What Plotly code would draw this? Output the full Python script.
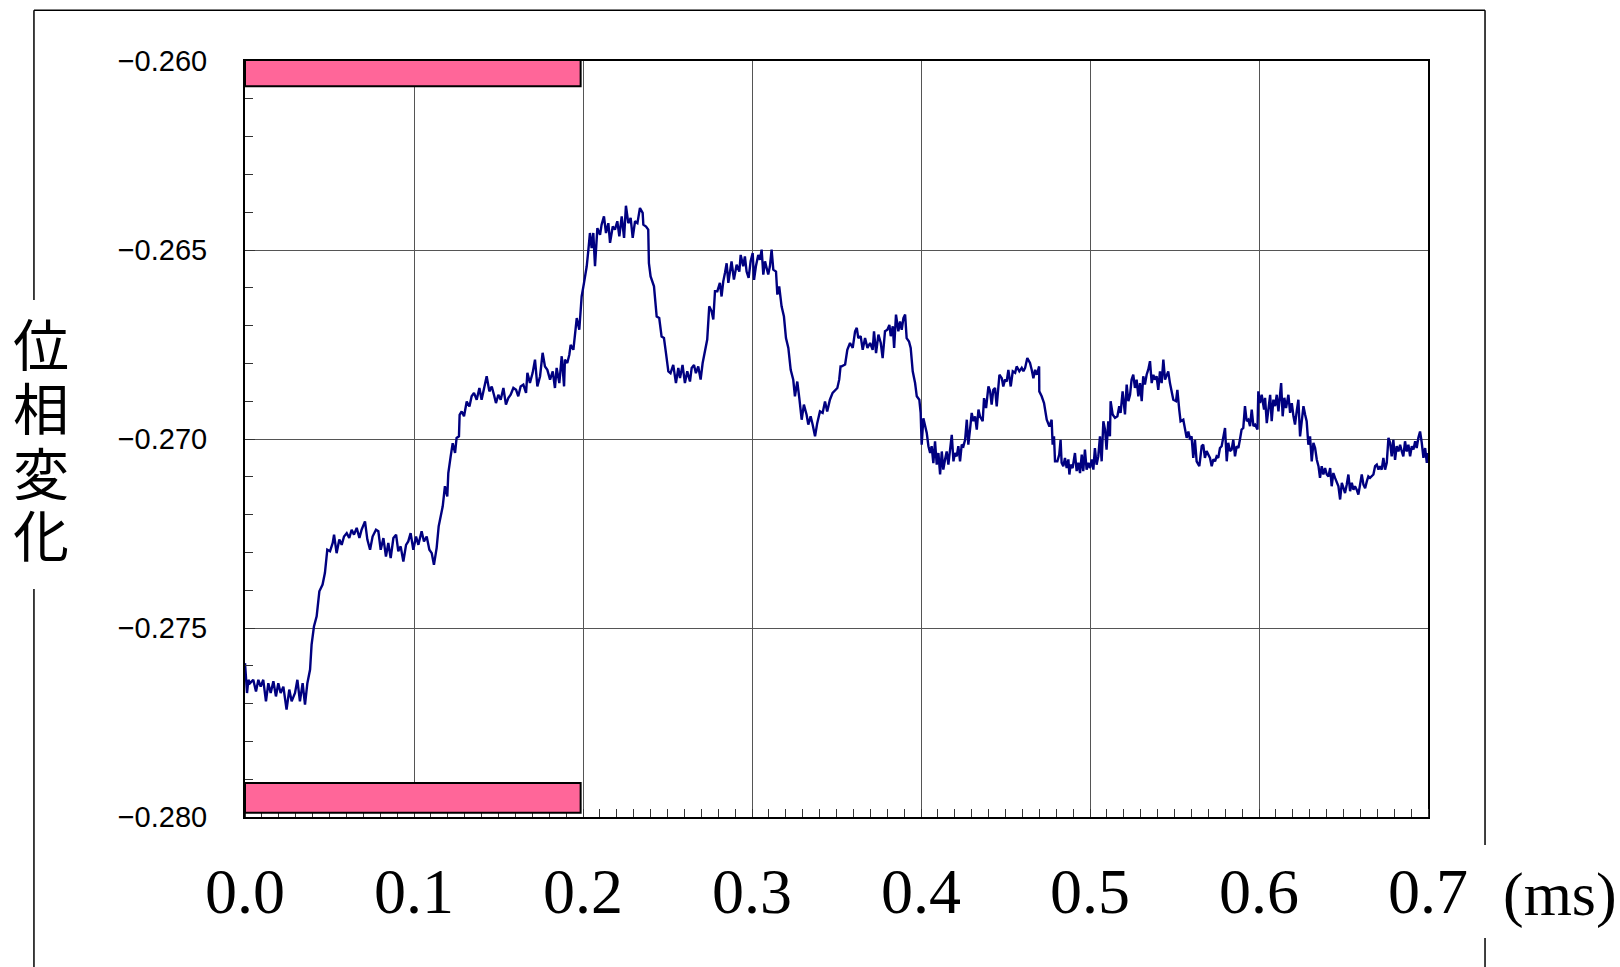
import plotly.graph_objects as go

# ---- data (time in ms, phase change) ----
readings = [
    (0.0000, -0.27593), (0.0012, -0.27672), (0.0020, -0.27637), (0.0030, -0.27646), (0.0049, -0.27637),
    (0.0065, -0.27668), (0.0079, -0.27637), (0.0093, -0.27655), (0.0108, -0.27637), (0.0124, -0.27694),
    (0.0138, -0.27646), (0.0152, -0.27672), (0.0168, -0.27641), (0.0183, -0.27681), (0.0197, -0.27646),
    (0.0211, -0.27672), (0.0227, -0.27655), (0.0246, -0.27716), (0.0262, -0.27663), (0.0276, -0.27694),
    (0.0296, -0.27672), (0.0310, -0.27637), (0.0325, -0.27694), (0.0341, -0.27646), (0.0355, -0.27703),
    (0.0369, -0.27646), (0.0385, -0.27610), (0.0394, -0.27544), (0.0408, -0.27496), (0.0424, -0.27469),
    (0.0440, -0.27403), (0.0459, -0.27385), (0.0473, -0.27354), (0.0487, -0.27293), (0.0503, -0.27297),
    (0.0519, -0.27275), (0.0527, -0.27253), (0.0542, -0.27302), (0.0558, -0.27266), (0.0572, -0.27280),
    (0.0586, -0.27258), (0.0602, -0.27249), (0.0617, -0.27262), (0.0631, -0.27240), (0.0645, -0.27253),
    (0.0661, -0.27235), (0.0677, -0.27262), (0.0690, -0.27240), (0.0710, -0.27218), (0.0724, -0.27266),
    (0.0740, -0.27293), (0.0755, -0.27258), (0.0775, -0.27240), (0.0789, -0.27244), (0.0803, -0.27293),
    (0.0819, -0.27262), (0.0834, -0.27311), (0.0848, -0.27275), (0.0862, -0.27315), (0.0878, -0.27262),
    (0.0894, -0.27253), (0.0907, -0.27297), (0.0921, -0.27284), (0.0937, -0.27324), (0.0953, -0.27280),
    (0.0966, -0.27271), (0.0980, -0.27249), (0.0996, -0.27293), (0.1012, -0.27258), (0.1026, -0.27280),
    (0.1045, -0.27244), (0.1059, -0.27271), (0.1075, -0.27258), (0.1091, -0.27293), (0.1105, -0.27302),
    (0.1118, -0.27333), (0.1134, -0.27288), (0.1146, -0.27231),
    (0.1170, -0.27178), (0.1183, -0.27125), (0.1197, -0.27152), (0.1203, -0.27090), (0.1217, -0.27046),
    (0.1229, -0.27011), (0.1243, -0.27037), (0.1252, -0.26997), (0.1266, -0.26993), (0.1270, -0.26936),
    (0.1282, -0.26927), (0.1296, -0.26940), (0.1312, -0.26901), (0.1328, -0.26914), (0.1341, -0.26887),
    (0.1355, -0.26878), (0.1371, -0.26896), (0.1387, -0.26865), (0.1400, -0.26896), (0.1414, -0.26870),
    (0.1430, -0.26834), (0.1446, -0.26874), (0.1460, -0.26861), (0.1473, -0.26883), (0.1485, -0.26905),
    (0.1499, -0.26883), (0.1513, -0.26896), (0.1529, -0.26865), (0.1544, -0.26909), (0.1558, -0.26892),
    (0.1572, -0.26883), (0.1588, -0.26865), (0.1604, -0.26870), (0.1617, -0.26887), (0.1631, -0.26861),
    (0.1647, -0.26856), (0.1663, -0.26878), (0.1671, -0.26825), (0.1686, -0.26852), (0.1702, -0.26825),
    (0.1716, -0.26790), (0.1730, -0.26861), (0.1746, -0.26834), (0.1761, -0.26772), (0.1775, -0.26808),
    (0.1789, -0.26817), (0.1805, -0.26843), (0.1821, -0.26821), (0.1834, -0.26865), (0.1844, -0.26812),
    (0.1860, -0.26852), (0.1874, -0.26781), (0.1888, -0.26861), (0.1893, -0.26790), (0.1907, -0.26799),
    (0.1919, -0.26777), (0.1927, -0.26751), (0.1943, -0.26764), (0.1953, -0.26729), (0.1963, -0.26680),
    (0.1978, -0.26711), (0.1992, -0.26623), (0.2006, -0.26587), (0.2022, -0.26543), (0.2032, -0.26499),
    (0.2041, -0.26455), (0.2051, -0.26495), (0.2061, -0.26455), (0.2071, -0.26543), (0.2085, -0.26442),
    (0.2101, -0.26460), (0.2110, -0.26433), (0.2124, -0.26411), (0.2136, -0.26455), (0.2150, -0.26429),
    (0.2160, -0.26481), (0.2176, -0.26438), (0.2189, -0.26446), (0.2203, -0.26424), (0.2215, -0.26464),
    (0.2229, -0.26411), (0.2243, -0.26468), (0.2254, -0.26383), (0.2268, -0.26429), (0.2282, -0.26415),
    (0.2294, -0.26468), (0.2308, -0.26424), (0.2322, -0.26429), (0.2337, -0.26389),
    (0.2353, -0.26402), (0.2357, -0.26433), (0.2373, -0.26438), (0.2386, -0.26446), (0.2390, -0.26535),
    (0.2400, -0.26570), (0.2420, -0.26596), (0.2436, -0.26676), (0.2451, -0.26680), (0.2465, -0.26729),
    (0.2479, -0.26733), (0.2491, -0.26773), (0.2505, -0.26821), (0.2518, -0.26826), (0.2534, -0.26804),
    (0.2550, -0.26852), (0.2564, -0.26812), (0.2574, -0.26839), (0.2589, -0.26804), (0.2603, -0.26852),
    (0.2617, -0.26821), (0.2633, -0.26848), (0.2643, -0.26812), (0.2657, -0.26804), (0.2668, -0.26826),
    (0.2682, -0.26808), (0.2696, -0.26843), (0.2708, -0.26799), (0.2722, -0.26764), (0.2735, -0.26737),
    (0.2747, -0.26649), (0.2761, -0.26662), (0.2771, -0.26684), (0.2781, -0.26609), (0.2795, -0.26609),
    (0.2810, -0.26587), (0.2820, -0.26623), (0.2830, -0.26583), (0.2840, -0.26561), (0.2850, -0.26535),
    (0.2860, -0.26587), (0.2870, -0.26548), (0.2879, -0.26530), (0.2893, -0.26578), (0.2909, -0.26539),
    (0.2925, -0.26557), (0.2933, -0.26513), (0.2948, -0.26543), (0.2958, -0.26517), (0.2968, -0.26557),
    (0.2980, -0.26574), (0.2992, -0.26530), (0.3004, -0.26508), (0.3012, -0.26579), (0.3023, -0.26543),
    (0.3037, -0.26513), (0.3047, -0.26526), (0.3057, -0.26499), (0.3067, -0.26565), (0.3077, -0.26530),
    (0.3087, -0.26552), (0.3096, -0.26565), (0.3106, -0.26543), (0.3116, -0.26499), (0.3126, -0.26552),
    (0.3142, -0.26557), (0.3150, -0.26618), (0.3161, -0.26596), (0.3175, -0.26649), (0.3189, -0.26676),
    (0.3201, -0.26733), (0.3215, -0.26759), (0.3229, -0.26817), (0.3244, -0.26843), (0.3254, -0.26887),
    (0.3268, -0.26848), (0.3280, -0.26892), (0.3294, -0.26949), (0.3307, -0.26909), (0.3323, -0.26936),
    (0.3333, -0.26962), (0.3347, -0.26940), (0.3359, -0.26962), (0.3373, -0.26993), (0.3386, -0.26958),
    (0.3402, -0.26927), (0.3418, -0.26931), (0.3432, -0.26901), (0.3445, -0.26927), (0.3461, -0.26896),
    (0.3477, -0.26878), (0.3491, -0.26870), (0.3505, -0.26865), (0.3516, -0.26843), (0.3524, -0.26808),
    (0.3531, -0.26808), (0.3551, -0.26803), (0.3564, -0.26764), (0.3580, -0.26746), (0.3596, -0.26759),
    (0.3610, -0.26715), (0.3620, -0.26706), (0.3629, -0.26733), (0.3643, -0.26728), (0.3655, -0.26764),
    (0.3669, -0.26733), (0.3683, -0.26759), (0.3699, -0.26746), (0.3714, -0.26764), (0.3722, -0.26715),
    (0.3734, -0.26773), (0.3748, -0.26724), (0.3762, -0.26746), (0.3773, -0.26786), (0.3787, -0.26715),
    (0.3801, -0.26711), (0.3813, -0.26698), (0.3821, -0.26728), (0.3833, -0.26702), (0.3841, -0.26759),
    (0.3852, -0.26671), (0.3866, -0.26715), (0.3876, -0.26689), (0.3886, -0.26711), (0.3896, -0.26680),
    (0.3906, -0.26671), (0.3915, -0.26733), (0.3929, -0.26742), (0.3939, -0.26759), (0.3951, -0.26821),
    (0.3965, -0.26852), (0.3975, -0.26887), (0.3990, -0.26896), (0.3998, -0.26931), (0.4004, -0.27015),
    (0.4014, -0.26945), (0.4024, -0.26967), (0.4034, -0.26984), (0.4044, -0.27019), (0.4054, -0.27037),
    (0.4063, -0.27019), (0.4073, -0.27064), (0.4083, -0.27006), (0.4093, -0.27068), (0.4103, -0.27037),
    (0.4113, -0.27094), (0.4123, -0.27033), (0.4132, -0.27081), (0.4142, -0.27055), (0.4152, -0.27033),
    (0.4162, -0.27068), (0.4172, -0.27019), (0.4182, -0.26989), (0.4192, -0.27059), (0.4201, -0.27037),
    (0.4211, -0.27046), (0.4221, -0.27019), (0.4231, -0.27059), (0.4241, -0.27015), (0.4251, -0.27019),
    (0.4261, -0.27002), (0.4271, -0.26949), (0.4280, -0.27015), (0.4290, -0.26975), (0.4300, -0.26931),
    (0.4310, -0.26953), (0.4320, -0.26940), (0.4330, -0.26975), (0.4340, -0.26922), (0.4349, -0.26940),
    (0.4365, -0.26953), (0.4373, -0.26892), (0.4385, -0.26918), (0.4399, -0.26861), (0.4409, -0.26874),
    (0.4418, -0.26909), (0.4428, -0.26870), (0.4438, -0.26865), (0.4448, -0.26914), (0.4464, -0.26830),
    (0.4478, -0.26839), (0.4487, -0.26861), (0.4497, -0.26843), (0.4507, -0.26848), (0.4517, -0.26817),
    (0.4531, -0.26861), (0.4543, -0.26821), (0.4557, -0.26825), (0.4566, -0.26808), (0.4582, -0.26821),
    (0.4596, -0.26812), (0.4606, -0.26821), (0.4616, -0.26812), (0.4629, -0.26786), (0.4645, -0.26799),
    (0.4655, -0.26817), (0.4665, -0.26839), (0.4675, -0.26817), (0.4685, -0.26830), (0.4699, -0.26808),
    (0.4700, -0.26874), (0.4714, -0.26887), (0.4728, -0.26905), (0.4744, -0.26949), (0.4760, -0.26967),
    (0.4773, -0.26949), (0.4779, -0.27015), (0.4787, -0.26993), (0.4793, -0.27059), (0.4807, -0.27059),
    (0.4818, -0.27041), (0.4826, -0.27002), (0.4832, -0.27063), (0.4842, -0.27072), (0.4852, -0.27050),
    (0.4862, -0.27077), (0.4872, -0.27054), (0.4878, -0.27094), (0.4885, -0.27068), (0.4897, -0.27077),
    (0.4905, -0.27059), (0.4911, -0.27037), (0.4921, -0.27085), (0.4931, -0.27063), (0.4941, -0.27090),
    (0.4951, -0.27041), (0.4960, -0.27085), (0.4970, -0.27028), (0.4980, -0.27081), (0.4990, -0.27063),
    (0.5000, -0.27077), (0.5010, -0.27054), (0.5020, -0.27081), (0.5029, -0.27024), (0.5039, -0.27068),
    (0.5049, -0.27046), (0.5059, -0.26993), (0.5069, -0.27059), (0.5079, -0.26953), (0.5089, -0.26975),
    (0.5098, -0.27028), (0.5108, -0.26953), (0.5118, -0.26993), (0.5122, -0.26900), (0.5134, -0.26935),
    (0.5148, -0.26944), (0.5162, -0.26940), (0.5173, -0.26913), (0.5181, -0.26931), (0.5193, -0.26874),
    (0.5207, -0.26935), (0.5217, -0.26856), (0.5227, -0.26900), (0.5237, -0.26883), (0.5246, -0.26843),
    (0.5256, -0.26830), (0.5266, -0.26865), (0.5276, -0.26843), (0.5286, -0.26887), (0.5296, -0.26852),
    (0.5306, -0.26900), (0.5315, -0.26834), (0.5325, -0.26856), (0.5335, -0.26830), (0.5345, -0.26816),
    (0.5355, -0.26794), (0.5365, -0.26852), (0.5375, -0.26830), (0.5384, -0.26843), (0.5394, -0.26834),
    (0.5404, -0.26870), (0.5414, -0.26821), (0.5424, -0.26852), (0.5434, -0.26790), (0.5444, -0.26843),
    (0.5454, -0.26830), (0.5463, -0.26821), (0.5473, -0.26852), (0.5483, -0.26870), (0.5493, -0.26896),
    (0.5509, -0.26900), (0.5517, -0.26870), (0.5528, -0.26922), (0.5536, -0.26953), (0.5552, -0.26949),
    (0.5562, -0.26971), (0.5572, -0.26997), (0.5582, -0.26980), (0.5592, -0.27002), (0.5601, -0.26993),
    (0.5611, -0.27050), (0.5621, -0.27002), (0.5631, -0.27059), (0.5647, -0.27072), (0.5661, -0.27019),
    (0.5670, -0.27015), (0.5680, -0.27050), (0.5690, -0.27032), (0.5700, -0.27041), (0.5710, -0.27050),
    (0.5720, -0.27072), (0.5730, -0.27054), (0.5740, -0.27059), (0.5749, -0.27046), (0.5759, -0.27050),
    (0.5769, -0.27024), (0.5779, -0.27019), (0.5789, -0.26997), (0.5799, -0.26971), (0.5809, -0.27059),
    (0.5818, -0.27010), (0.5828, -0.27032), (0.5838, -0.27028), (0.5848, -0.27002), (0.5858, -0.27046),
    (0.5868, -0.27019), (0.5878, -0.27024), (0.5887, -0.27002), (0.5897, -0.26975), (0.5907, -0.26971),
    (0.5917, -0.26913), (0.5927, -0.26953), (0.5937, -0.26949), (0.5947, -0.26966),
    (0.5957, -0.26922), (0.5967, -0.26966), (0.5977, -0.26962), (0.5991, -0.26975), (0.5996, -0.26874),
    (0.6006, -0.26905), (0.6016, -0.26883), (0.6030, -0.26922), (0.6036, -0.26891), (0.6046, -0.26958),
    (0.6056, -0.26913), (0.6066, -0.26883), (0.6075, -0.26953), (0.6085, -0.26896), (0.6095, -0.26913),
    (0.6105, -0.26883), (0.6115, -0.26927), (0.6125, -0.26878), (0.6131, -0.26852), (0.6140, -0.26940),
    (0.6150, -0.26891), (0.6160, -0.26918), (0.6174, -0.26883), (0.6184, -0.26931), (0.6194, -0.26905),
    (0.6204, -0.26940), (0.6213, -0.26962), (0.6223, -0.26927), (0.6233, -0.26896), (0.6243, -0.26993),
    (0.6253, -0.26949), (0.6263, -0.26913), (0.6273, -0.26936), (0.6282, -0.26953), (0.6292, -0.27015),
    (0.6302, -0.26993), (0.6312, -0.27059), (0.6322, -0.27010), (0.6332, -0.27024), (0.6342, -0.27055),
    (0.6352, -0.27072), (0.6361, -0.27103), (0.6371, -0.27072), (0.6381, -0.27094), (0.6391, -0.27077),
    (0.6401, -0.27094), (0.6411, -0.27099), (0.6421, -0.27077), (0.6430, -0.27125), (0.6440, -0.27090),
    (0.6450, -0.27103), (0.6460, -0.27116), (0.6470, -0.27125), (0.6480, -0.27160), (0.6490, -0.27116),
    (0.6500, -0.27130), (0.6509, -0.27143), (0.6519, -0.27121), (0.6529, -0.27094), (0.6539, -0.27138),
    (0.6549, -0.27116), (0.6559, -0.27134), (0.6568, -0.27125), (0.6578, -0.27134), (0.6588, -0.27147),
    (0.6598, -0.27121), (0.6608, -0.27094), (0.6618, -0.27121), (0.6628, -0.27130), (0.6638, -0.27112),
    (0.6647, -0.27099), (0.6657, -0.27103), (0.6667, -0.27099), (0.6677, -0.27094), (0.6687, -0.27072),
    (0.6697, -0.27068), (0.6707, -0.27081), (0.6716, -0.27072), (0.6726, -0.27081), (0.6736, -0.27050),
    (0.6746, -0.27081), (0.6756, -0.27063), (0.6766, -0.26997), (0.6776, -0.27010), (0.6785, -0.27046),
    (0.6795, -0.27002), (0.6805, -0.27055), (0.6815, -0.27019), (0.6825, -0.27033), (0.6835, -0.27015),
    (0.6845, -0.27033), (0.6854, -0.27046), (0.6864, -0.27006), (0.6874, -0.27033), (0.6884, -0.27015),
    (0.6894, -0.27046), (0.6904, -0.27019), (0.6914, -0.27028), (0.6924, -0.27006), (0.6933, -0.27024),
    (0.6943, -0.26997), (0.6953, -0.26980), (0.6963, -0.27010), (0.6973, -0.27050), (0.6983, -0.27024),
    (0.6993, -0.27063), (0.7000, -0.27037),
]
time_ms = [r[0] for r in readings]
phase = [r[1] for r in readings]

x_ticks = [0.0, 0.1, 0.2, 0.3, 0.4, 0.5, 0.6, 0.7]
x_labels = ["0.0", "0.1", "0.2", "0.3", "0.4", "0.5", "0.6", "0.7"]
y_ticks = [-0.280, -0.275, -0.270, -0.265, -0.260]
y_labels = ["\u22120.280", "\u22120.275", "\u22120.270", "\u22120.265", "\u22120.260"]
y_title_chars = ["位", "相", "変", "化"]
x_unit = "(ms)"
pulse_start, pulse_end = 0.0, 0.2

fig = go.Figure()
fig.add_trace(go.Scatter(x=time_ms, y=phase, mode="lines",
                         line=dict(color="#000080", width=2.4),
                         showlegend=False, hoverinfo="skip"))

grid_col = "#555555"
fig.update_xaxes(range=[0, 0.7], tickmode="array", tickvals=x_ticks, ticktext=x_labels,
                 showgrid=True, gridcolor=grid_col, gridwidth=1, zeroline=False,
                 showline=True, linecolor="black", linewidth=2, mirror=True,
                 ticks="", ticklabelstandoff=17,
                 tickfont=dict(family="Liberation Serif, Times New Roman, serif", size=64, color="black"),
                 minor=dict(tickmode="linear", tick0=0, dtick=0.01, ticks="inside", ticklen=8,
                            tickcolor="#333333", tickwidth=1, showgrid=False))
fig.update_yaxes(range=[-0.280, -0.260], tickmode="array", tickvals=y_ticks, ticktext=y_labels,
                 showgrid=True, gridcolor=grid_col, gridwidth=1, zeroline=False,
                 showline=True, linecolor="black", linewidth=2, mirror=True,
                 ticks="inside", ticklen=10, tickcolor="#333333", ticklabelstandoff=30,
                 tickfont=dict(family="Liberation Sans, Arial, sans-serif", size=29, color="black"),
                 minor=dict(tickmode="linear", tick0=-0.280, dtick=0.001, ticks="inside", ticklen=8,
                            tickcolor="#333333", tickwidth=1, showgrid=False))

shapes = []
# pink pulse bars (top and bottom)
for y0, y1 in [(-0.25988, -0.26067), (-0.27910, -0.27989)]:
    shapes.append(dict(type="rect", xref="x", yref="y", x0=pulse_start, x1=pulse_end * 0.993,
                       y0=y0, y1=y1, fillcolor="#FF6699", line=dict(color="black", width=2),
                       layer="above"))
# outer frame with gaps for the axis title and unit
frame = dict(color="black", width=1.5)
left_x, right_x, top_y = -0.1784, 1.0482, 1.0671
for (x0, y0, x1, y1) in [
    (left_x, top_y, right_x, top_y),
    (left_x, top_y, left_x, 0.684),
    (left_x, 0.3016, left_x, -0.2),
    (right_x, top_y, right_x, -0.037),
    (right_x, -0.160, right_x, -0.2),
]:
    shapes.append(dict(type="line", xref="paper", yref="paper", x0=x0, y0=y0, x1=x1, y1=y1,
                       line=frame, layer="above"))

annotations = []
char_y = [0.6296, 0.5450, 0.4590, 0.3770]
for ch, cy in zip(y_title_chars, char_y):
    annotations.append(dict(text=ch, xref="paper", yref="paper", x=-0.1724, y=cy,
                            xanchor="center", yanchor="middle", showarrow=False,
                            height=60, valign="middle",
                            font=dict(family="Noto Sans CJK JP", size=56, color="black")))
annotations.append(dict(text=x_unit, xref="paper", yref="paper", x=1.1120, y=-0.1019,
                        xanchor="center", yanchor="middle", showarrow=False,
                        font=dict(family="Liberation Serif, Times New Roman, serif", size=62, color="black")))

fig.update_layout(width=1620, height=967, margin=dict(l=245, r=192, t=61, b=150),
                  paper_bgcolor="white", plot_bgcolor="white",
                  shapes=shapes, annotations=annotations, showlegend=False)

fig.write_html("out.html", config={"displayModeBar": False},
               post_script="document.body.style.margin='0';document.body.style.overflow='hidden';")
